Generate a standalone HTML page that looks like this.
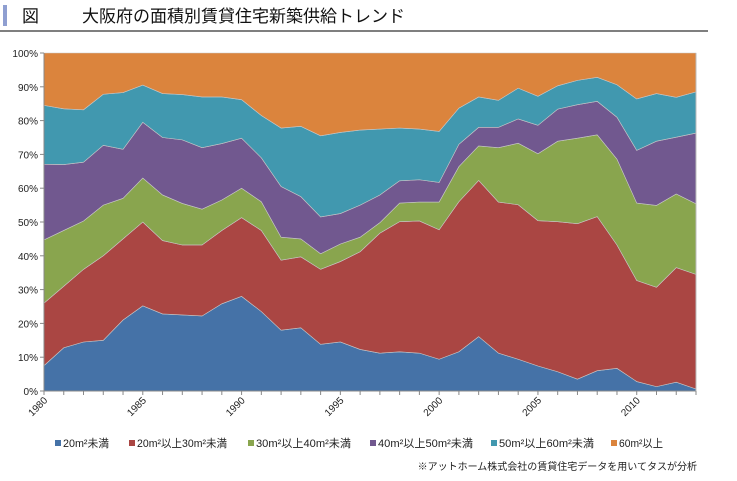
<!DOCTYPE html>
<html><head><meta charset="utf-8"><style>
body{margin:0;background:#fff;width:737px;height:476px;overflow:hidden;font-family:"Liberation Sans","Noto Sans CJK JP",sans-serif;}
</style></head><body>
<svg id="chart" width="737" height="476" xmlns="http://www.w3.org/2000/svg" font-family="Liberation Sans, Noto Sans CJK JP, sans-serif">
<rect x="3" y="5" width="4" height="21" fill="#8f9fd1"/>
<text x="22" y="22" font-size="17" fill="#111">図</text>
<text x="82" y="22" font-size="17" fill="#111">大阪府の面積別賃貸住宅新築供給トレンド</text>
<line x1="0" y1="31" x2="708" y2="31" stroke="#555" stroke-width="1.5"/>
<g id="plot"></g>
<g id="axes"></g>
<g id="legend"></g>
<text x="697" y="470" font-size="10" text-anchor="end" fill="#222">※アットホーム株式会社の賃貸住宅データを用いてタスが分析</text>
</svg>
<script>
const years=[1980,1981,1982,1983,1984,1985,1986,1987,1988,1989,1990,1991,1992,1993,1994,1995,1996,1997,1998,1999,2000,2001,2002,2003,2004,2005,2006,2007,2008,2009,2010,2011,2012,2013];
const seriesNames=["20m²未満","20m²以上30m²未満","30m²以上40m²未満","40m²以上50m²未満","50m²以上60m²未満","60m²以上"];
const s20=[7.5,12.8,14.5,15,21,25.2,22.8,22.5,22.2,25.8,28,23.5,18,18.7,13.8,14.5,12.3,11.2,11.6,11.2,9.4,11.6,16.1,11.2,9.4,7.4,5.7,3.5,6,6.7,2.8,1.3,2.6,0.6];
const s20_30=[18.5,18.2,21.5,25,24,24.8,21.7,20.7,21,21.7,23.3,24,20.7,21,22.2,23.8,28.9,35.5,38.5,39.1,38.3,44.4,46.2,44.7,45.7,43,44.4,46,45.6,36.5,29.9,29.4,33.9,33.9];
const s30_40=[18.7,16.5,14.3,15,12,13,13.5,12.3,10.6,9,8.7,8.5,6.8,5.3,4.6,5.2,4.3,3.1,5.5,5.6,8.2,10.4,10.2,16.1,18.2,19.8,23.8,25.3,24.2,25.4,22.9,24.2,21.8,20.9];
const s40_50=[22.4,19.5,17.4,17.7,14.5,16.5,17,18.8,18.2,16.7,14.8,13,15,12.5,10.9,9,9.5,8.2,6.6,6.6,5.8,6.6,5.5,6,7.2,8.4,9.5,9.9,9.9,12.4,15.6,19,16.8,20.9];
const s50_60=[17.4,16.5,15.5,15.1,16.8,11,13,13.4,15,13.8,11.4,12.5,17.3,20.8,24,24,22.2,19.5,15.6,15,15.1,10.7,9,8,9.1,8.6,6.9,7.2,7.1,9.6,15.2,14.1,11.8,12.2];
const s60=[15.5,16.5,16.8,12.2,11.7,9.5,12,12.3,13,13,13.8,18.5,22.2,21.7,24.5,23.5,22.8,22.5,22.2,22.5,23.2,16.3,13,14,10.4,12.8,9.7,8.1,7.2,9.4,13.6,12,13.1,11.5];
const yTicks=[0,10,20,30,40,50,60,70,80,90,100];
const xLabelYears=[1980,1985,1990,1995,2000,2005,2010];
const colors=["#4572a7","#aa4643","#89a54e","#71588f","#4198af","#db843d"];
const NS="http://www.w3.org/2000/svg";
const L=44,R=696,T=53,B=391;
const x=y=>L+(y-years[0])*(R-L)/(years[years.length-1]-years[0]);
const yv=v=>B-v*(B-T)/100;
const all=[s20,s20_30,s30_40,s40_50,s50_60,s60];
const plot=document.getElementById('plot'),axes=document.getElementById('axes'),legend=document.getElementById('legend');
function mk(tag,attrs,parent){const e=document.createElementNS(NS,tag);for(const k in attrs)e.setAttribute(k,attrs[k]);parent.appendChild(e);return e;}
let base=years.map(()=>0);
const areaNames=['area-20-under','area-20-30','area-30-40','area-40-50','area-50-60','area-60-over'];
all.forEach((s,i)=>{
  const top=base.map((b,j)=>b+s[j]);
  let tot=years.map((_,j)=>all.reduce((a,ss)=>a+ss[j],0));
  const tn=top.map((v,j)=>v/tot[j]*100), bn=base.map((v,j)=>v/tot[j]*100);
  let d='M'+years.map((y,j)=>x(y)+','+yv(tn[j])).join('L');
  for(let j=years.length-1;j>=0;j--)d+='L'+x(years[j])+','+yv(bn[j]);
  d+='Z';
  const p=mk('path',{d:d,fill:colors[i],stroke:'#c8c8c8','stroke-width':0.6},plot);
  
  
  base=top;
});
mk('line',{x1:L,y1:T,x2:L,y2:B,stroke:'#888'},axes);
mk('line',{x1:L,y1:B,x2:R,y2:B,stroke:'#888'},axes);
mk('line',{x1:R,y1:T,x2:R,y2:B,stroke:'#bbb'},axes);
yTicks.forEach(t=>{
  mk('line',{x1:L-4,y1:yv(t),x2:L,y2:yv(t),stroke:'#888'},axes);
  const tx=mk('text',{x:L-6,y:yv(t)+4,'font-size':10,'text-anchor':'end',fill:'#222'},axes);
  tx.textContent=t+'%';
  
  
});
years.forEach(y=>{mk('line',{x1:x(y),y1:B,x2:x(y),y2:B+4,stroke:'#888'},axes);});
xLabelYears.forEach(y=>{
  const tx=mk('text',{x:x(y)+4,y:B+10,'font-size':10,'text-anchor':'end',fill:'#222',transform:'rotate(-45 '+(x(y)+4)+' '+(B+10)+')'},axes);
  tx.textContent=y;
  
  
});
const lx=[55,129,248,370,491,611];
const lw=[46,90,95,95,95,44];
seriesNames.forEach((n,i)=>{
  const g=mk('g',{},legend);
  
  
  mk('rect',{x:lx[i],y:440,width:6,height:6,fill:colors[i]},g);
  const t=mk('text',{x:lx[i]+8,y:447,'font-size':11,fill:'#222',textLength:lw[i],lengthAdjust:'spacingAndGlyphs'},g);
  t.textContent=n;
});
</script>
</body></html>
